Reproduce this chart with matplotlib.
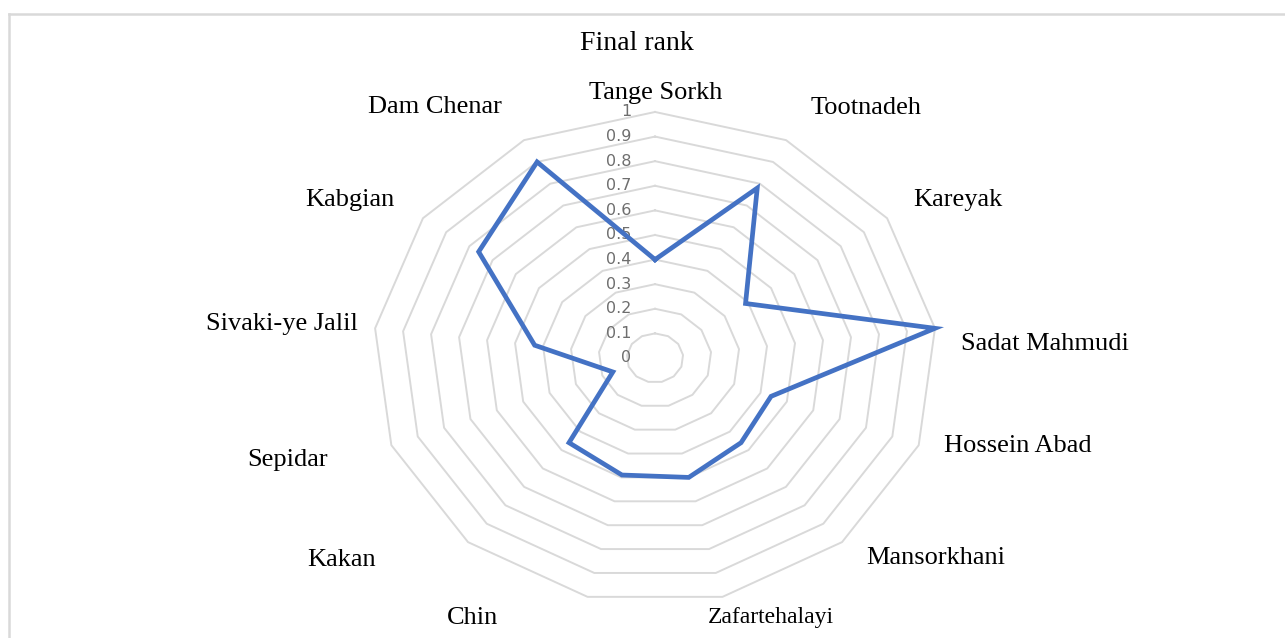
import numpy as np
import matplotlib
matplotlib.use("Agg")
import matplotlib.pyplot as plt
from matplotlib.lines import Line2D

# data (clockwise from top)
villages = ["Tange Sorkh", "Tootnadeh", "Kareyak", "Sadat Mahmudi", "Hossein Abad",
            "Mansorkhani", "Zafartehalayi", "Chin", "Kakan", "Sepidar",
            "Sivaki-ye Jalil", "Kabgian", "Dam Chenar"]
final_rank = [0.40, 0.78, 0.39, 1.00, 0.44, 0.46, 0.50, 0.49, 0.46, 0.16, 0.43, 0.76, 0.90]
ring_levels = [0.1, 0.2, 0.3, 0.4, 0.5, 0.6, 0.7, 0.8, 0.9, 1.0]
tick_labels = ["0", "0.1", "0.2", "0.3", "0.4", "0.5", "0.6", "0.7", "0.8", "0.9", "1"]

# where each category label sits relative to its outer vertex (pixels, x right / y down)
label_offsets_px = [(1, -19), (80, -32), (71, -18), (110, 16), (99, 1), (94, 16),
                    (48, 21), (-115, 21), (-127, 18), (-104, 15), (-93, -4),
                    (-73, -18), (-89, -33)]

fig = plt.figure(figsize=(12.85, 6.38), dpi=100)
ax = fig.add_axes([0.2903, 0.0533, 0.4389, 0.7712], projection="polar")
ax.set_aspect("auto")  # the original chart is stretched sideways
ax.set_theta_zero_location("N")
ax.set_theta_direction(-1)
ax.set_ylim(0, 1)
ax.grid(False)
ax.set_xticks([])
ax.set_yticks([])
ax.spines["polar"].set_visible(False)

n = len(villages)
theta = np.arange(n) * 2 * np.pi / n
closed = np.append(theta, theta[0])

# polygon gridlines
for lev in ring_levels:
    ax.plot(closed, [lev] * (n + 1), color="#d9d9d9", lw=1.4, clip_on=False, zorder=1)

# radial tick labels
for i, lab in enumerate(tick_labels):
    ax.annotate(lab, (0, i / 10), xytext=(-17, 0), textcoords="offset points",
                ha="right", va="center", fontsize=11.5, color="#6e6e6e",
                family="DejaVu Sans", annotation_clip=False)

# data line
vals = np.append(final_rank, final_rank[0])
ax.plot(closed, vals, color="#4472C4", lw=3.4, solid_joinstyle="miter",
        clip_on=False, zorder=3)

# category labels
for t, name, (dx, dy) in zip(theta, villages, label_offsets_px):
    size = 17 if name == "Zafartehalayi" else 19
    ax.annotate(name, (t, 1.0), xytext=(dx * 0.72, -dy * 0.72),
                textcoords="offset points", ha="center", va="center",
                fontsize=size, family="Liberation Serif", color="black",
                annotation_clip=False)

fig.text(0.496, 1 - 43 / 638, "Final rank", ha="center", va="center",
         fontsize=20, family="Liberation Serif")

# light frame (top and left edges visible in the original)
fig.add_artist(Line2D([0.007, 1.0], [0.978, 0.978], color="#d9d9d9", lw=1.8))
fig.add_artist(Line2D([0.007, 0.007], [0.0, 0.978], color="#d9d9d9", lw=1.8))

fig.savefig("out.png", dpi=100)
